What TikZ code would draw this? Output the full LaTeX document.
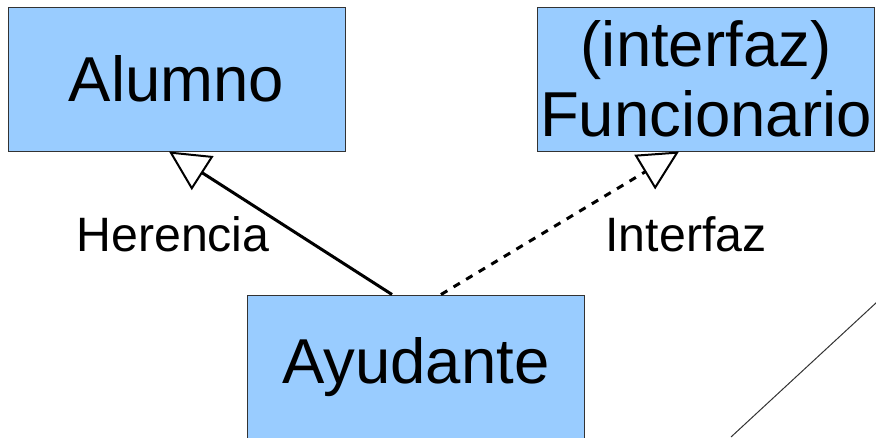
\documentclass[tikz,border=0pt]{standalone}
\usepackage{fontspec}
\setmainfont{Liberation Sans}
\usetikzlibrary{arrows.meta}
\definecolor{cajaazul}{RGB}{153,204,255}
\definecolor{bordegris}{RGB}{51,51,51}

\begin{document}
\begin{tikzpicture}[x=0.75pt,y=0.75pt,yscale=-1,xscale=1,
  clase/.style={draw=bordegris, line width=0.75pt, fill=cajaazul, minimum width=252.75pt, minimum height=108pt, inner sep=0pt, align=center, font=\fontsize{47.6}{52.5}\selectfont},
  rotulo/.style={anchor=base, inner sep=0pt, font=\fontsize{36.2}{40}\selectfont},
  flecha/.style={line width=2.25pt, -{Triangle[open, length=30pt, width=30pt, line width=1.5pt]}}]

\useasboundingbox (0,0) rectangle (876,437);

% clases
\node [clase] (alumno) at (176.5,79) {Alumno};

\node [clase] (funcionario) at (706,79) {(interfaz)\\Funcionario};

\node [clase] (ayudante) at (416,367) {Ayudante};

% relaciones
\draw [flecha] ([xshift=-18pt]ayudante.north) -- ([xshift=-5.6pt]alumno.south);

\draw [flecha, dash pattern=on 5.5pt off 5.5pt] ([xshift=18.75pt]ayudante.north) -- ([xshift=-20.25pt]funcionario.south);

\node [rotulo] (herencia) at (173,251) {Herencia};

\node [rotulo] (interfaz) at (686,251) {Interfaz};

% linea suelta
\draw [line width=0.75pt, black!80] (731,437) -- (877,302);

\end{tikzpicture}
\end{document}
